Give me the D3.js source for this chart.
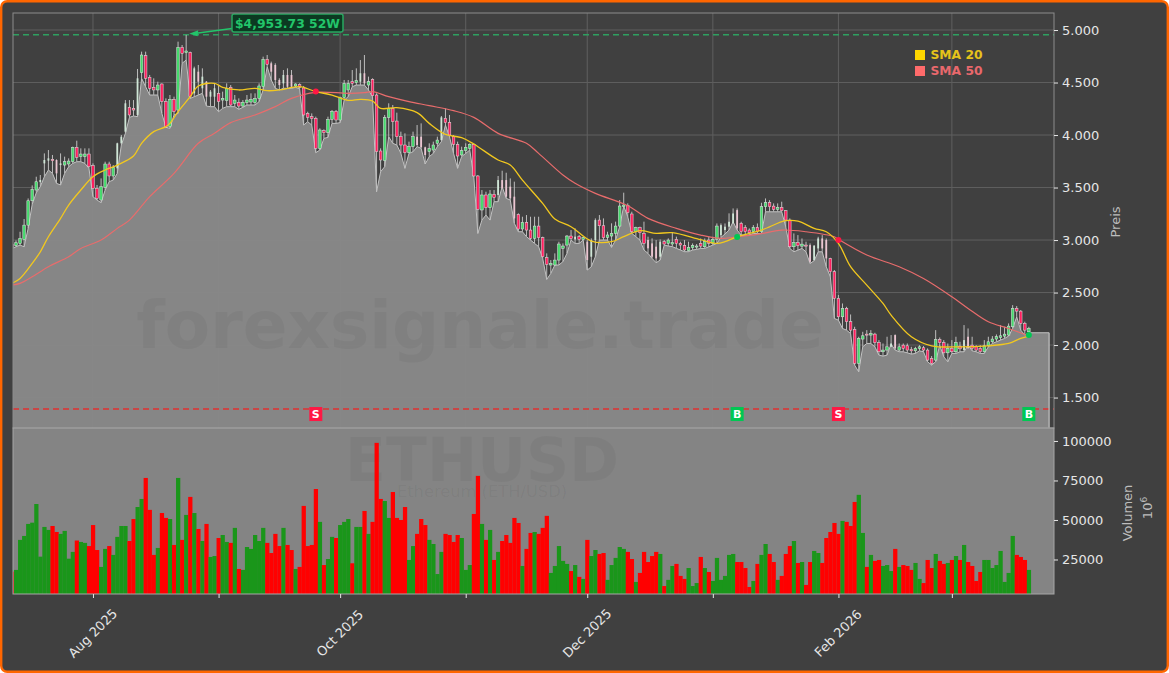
<!DOCTYPE html>
<html>
<head>
<meta charset="utf-8">
<title>ETHUSD</title>
<script src="https://cdnjs.cloudflare.com/ajax/libs/d3/7.9.0/d3.min.js"></script>
<style>
    html, body { margin: 0; padding: 0; background: #ffffff; }
    svg { display: block; font-family: "DejaVu Sans", sans-serif; }
</style>
</head>
<body>
<div id="chart"></div>
<script>
const firstDay = "2025-07-12";

// one letter per day, R = down, G = up (10 per row)
const directions = (
    "RGGGGGGGGG" + "RRGGGGRGGR" + "RRGGRGGGGR" + "RGGRRRGRRG" + "RGRGRGRGRG" +
    "GRGGRGRGGG" + "GGGRRRRGRR" + "GRRRRRGRGG" + "RGGGRGGRGR" + "RRGGRRRRGG" +
    "RRRGGGGRRR" + "RGGGRRGRGR" + "GRRRRRGRRG" + "RRRGGGGGRG" + "RGRGGRRGGG" +
    "GGRRGRRRRR" + "GRGGRRRGGG" + "RGRGGGGGGR" + "RRRGRGGRRG" + "RRRGRGRRGG" +
    "RRRRRGRRRG" + "GRGRRGGGRG" + "RRRGGRRRGR" + "RGRGRGRRRR" + "GGGGGGGGRR" +
    "RG"
).split("");

const bodyTops = [
    2961, 2974, 3015, 3142, 3374, 3482, 3555, 3572, 3762, 3778,
    3768, 3762, 3730, 3746, 3752, 3883, 3883, 3819, 3819, 3819,
    3708, 3492, 3508, 3724, 3724, 3689, 3921, 3984, 4302, 4264,
    4254, 4540, 4762, 4756, 4549, 4454, 4476, 4486, 4318, 4340,
    4340, 4835, 4835, 4800, 4787, 4635, 4603, 4556, 4508, 4413,
    4445, 4397, 4349, 4445, 4454, 4333, 4311, 4311, 4333, 4340,
    4349, 4467, 4721, 4721, 4683, 4667, 4524, 4572, 4572, 4572,
    4486, 4480, 4448, 4206, 4175, 4159, 4048, 4041, 4149, 4226,
    4226, 4356, 4492, 4492, 4508, 4518, 4588, 4588, 4508, 4530,
    4381, 3848, 4168, 4254, 4254, 4133, 3984, 3905, 3889, 3984,
    3984, 3984, 3883, 3873, 3905, 3952, 4168, 4159, 4121, 3984,
    3911, 3851, 3883, 3911, 3911, 3610, 3429, 3429, 3438, 3435,
    3571, 3571, 3571, 3508, 3413, 3244, 3168, 3168, 3095, 3133,
    3133, 3022, 2832, 2778, 2809, 2962, 2943, 3038, 3038, 3032,
    3032, 3025, 2984, 3000, 3190, 3190, 3136, 3048, 3063, 3133,
    3324, 3333, 3327, 3248, 3117, 3117, 3063, 3000, 2968, 2937,
    2984, 2984, 3000, 2975, 3006, 2968, 2949, 2930, 2949, 2943,
    2968, 2984, 3000, 3006, 3133, 3142, 3127, 3174, 3253, 3285,
    3158, 3120, 3095, 3120, 3120, 3317, 3358, 3358, 3323, 3311,
    3311, 3279, 3190, 2977, 2977, 2961, 2952, 2952, 2946, 3015,
    3015, 3000, 2825, 2698, 2444, 2349, 2349, 2222, 2149, 2063,
    2088, 2104, 2110, 2104, 2022, 1952, 1983, 2015, 2095, 1983,
    1999, 1993, 1958, 1968, 1983, 1974, 1952, 1872, 2053, 2053,
    2022, 1968, 1968, 2025, 1990, 2047, 2079, 1999, 1983, 1968,
    1993, 2031, 2057, 2079, 2088, 2104, 2180, 2349, 2349, 2323,
    2206, 2158
];

const bodyBottoms = [
    2936, 2946, 2968, 3006, 3142, 3374, 3476, 3552, 3730, 3756,
    3756, 3635, 3714, 3714, 3724, 3746, 3787, 3794, 3794, 3698,
    3492, 3397, 3381, 3502, 3610, 3610, 3683, 3921, 4032, 4191,
    4238, 4191, 4594, 4540, 4445, 4429, 4429, 4318, 4073, 4080,
    4222, 4238, 4778, 4784, 4365, 4397, 4508, 4445, 4365, 4365,
    4365, 4318, 4333, 4327, 4286, 4302, 4276, 4276, 4308, 4314,
    4308, 4349, 4460, 4673, 4603, 4524, 4476, 4492, 4460, 4460,
    4467, 4454, 4191, 4168, 4156, 3873, 3873, 4022, 4022, 4149,
    4143, 4143, 4356, 4429, 4492, 4499, 4508, 4492, 4476, 4375,
    3841, 3762, 3756, 4165, 4127, 3984, 3905, 3832, 3832, 3889,
    3905, 3883, 3810, 3841, 3857, 3921, 3952, 4118, 4000, 3911,
    3800, 3810, 3851, 3873, 3610, 3292, 3286, 3308, 3308, 3406,
    3429, 3492, 3413, 3397, 3206, 3105, 3105, 3095, 3016, 3016,
    3022, 2841, 2768, 2762, 2762, 2809, 2921, 2952, 3013, 3006,
    3006, 3006, 2809, 2841, 3000, 3136, 3022, 3025, 3038, 3063,
    3133, 3317, 3260, 3079, 3079, 3070, 2968, 2921, 2841, 2825,
    2841, 2962, 2968, 2962, 2968, 2952, 2905, 2898, 2927, 2933,
    2942, 2936, 2968, 2968, 3006, 3047, 3095, 3127, 3158, 3111,
    3079, 3079, 3069, 3079, 3079, 3079, 3317, 3317, 3292, 3292,
    3279, 3190, 2936, 2936, 2946, 2942, 2942, 2793, 2809, 2920,
    2920, 2825, 2698, 2444, 2269, 2269, 2222, 2142, 1825, 1825,
    2057, 2095, 2095, 2022, 1936, 1936, 1952, 1983, 1968, 1952,
    1968, 1952, 1945, 1945, 1968, 1952, 1857, 1825, 1857, 2022,
    1926, 1926, 1936, 1936, 1964, 1952, 1968, 1968, 1952, 1936,
    1936, 1993, 2031, 2057, 2072, 2085, 2095, 2174, 2323, 2206,
    2142, 2126
];

const highs = [
    2984, 2996, 3079, 3200, 3396, 3520, 3603, 3619, 3825, 3857,
    3810, 3768, 3825, 3794, 3778, 3889, 3946, 3873, 3873, 3873,
    3730, 3524, 3587, 3746, 3746, 3714, 3927, 4000, 4333, 4333,
    4333, 4629, 4794, 4794, 4572, 4540, 4508, 4492, 4349, 4381,
    4365, 4889, 4857, 4953.73, 4794, 4651, 4667, 4635, 4514, 4429,
    4492, 4476, 4413, 4492, 4476, 4381, 4349, 4333, 4381, 4397,
    4397, 4492, 4746, 4762, 4699, 4683, 4540, 4619, 4635, 4619,
    4492, 4492, 4467, 4222, 4206, 4175, 4064, 4054, 4175, 4238,
    4238, 4365, 4524, 4524, 4619, 4635, 4714, 4762, 4556, 4540,
    4397, 3873, 4191, 4302, 4286, 4213, 4032, 4016, 3937, 4032,
    4095, 4111, 3889, 3921, 3937, 3984, 4181, 4254, 4191, 4000,
    3937, 3889, 3921, 3921, 3921, 3619, 3476, 3460, 3476, 3476,
    3610, 3660, 3641, 3587, 3556, 3254, 3222, 3238, 3222, 3222,
    3222, 3032, 2873, 2809, 2873, 2984, 2968, 3048, 3095, 3111,
    3048, 3032, 3000, 3016, 3206, 3238, 3206, 3079, 3159, 3175,
    3381, 3451, 3349, 3270, 3127, 3127, 3175, 3032, 3016, 3000,
    3006, 3000, 3016, 3070, 3032, 2984, 3000, 2984, 2968, 2962,
    3015, 3015, 3031, 3031, 3158, 3158, 3158, 3254, 3301, 3301,
    3174, 3142, 3111, 3142, 3158, 3355, 3396, 3380, 3349, 3349,
    3365, 3285, 3206, 3063, 3047, 3015, 2984, 2968, 2952, 3031,
    3047, 3015, 2831, 2714, 2476, 2396, 2364, 2291, 2174, 2079,
    2126, 2142, 2142, 2117, 2047, 2015, 2079, 2095, 2101, 2015,
    2015, 2015, 1983, 1983, 1999, 1990, 1968, 1895, 2142, 2072,
    2047, 2015, 2047, 2079, 2031, 2190, 2158, 2079, 1999, 1999,
    2047, 2079, 2085, 2101, 2190, 2174, 2206, 2380, 2371, 2333,
    2222, 2174
];

const lows = [
    2920, 2936, 2952, 2936, 3110, 3340, 3450, 3508, 3603, 3667,
    3635, 3540, 3524, 3635, 3698, 3730, 3746, 3746, 3730, 3683,
    3413, 3381, 3356, 3476, 3556, 3571, 3635, 3905, 4016, 4168,
    4181, 4175, 4540, 4460, 4381, 4381, 4381, 4206, 4073, 4064,
    4191, 4206, 4683, 4714, 4349, 4365, 4381, 4397, 4276, 4270,
    4270, 4222, 4254, 4270, 4270, 4270, 4245, 4264, 4286, 4286,
    4286, 4318, 4429, 4651, 4524, 4445, 4429, 4445, 4445, 4445,
    4454, 4441, 4095, 4127, 4095, 3832, 3857, 3968, 3978, 4111,
    4111, 4118, 4333, 4365, 4460, 4476, 4476, 4476, 4429, 4365,
    3460, 3651, 3698, 3984, 3921, 3905, 3825, 3683, 3825, 3841,
    3889, 3873, 3724, 3794, 3825, 3889, 3937, 4095, 3984, 3825,
    3683, 3794, 3825, 3857, 3603, 3063, 3190, 3238, 3190, 3365,
    3365, 3508, 3397, 3381, 3159, 3079, 3079, 3032, 3000, 2968,
    2937, 2825, 2625, 2682, 2762, 2762, 2794, 2873, 3000, 2968,
    2968, 3000, 2714, 2746, 2841, 3000, 3000, 3000, 2930, 3000,
    3127, 3324, 3222, 3063, 3032, 3000, 2905, 2873, 2825, 2784,
    2809, 2952, 2943, 2937, 2921, 2905, 2889, 2889, 2905, 2911,
    2920, 2920, 2936, 2952, 2968, 3025, 3057, 3095, 3174, 3095,
    3047, 3047, 3047, 3063, 3063, 3063, 3269, 3269, 3269, 3269,
    3269, 3126, 2920, 2888, 2904, 2920, 2888, 2777, 2803, 2888,
    2888, 2746, 2650, 2253, 2237, 2158, 2142, 2110, 1809, 1745,
    1983, 2015, 2015, 1983, 1904, 1895, 1904, 2009, 1952, 1936,
    1936, 1926, 1914, 1920, 1945, 1936, 1841, 1809, 1841, 1999,
    1888, 1841, 1920, 1920, 1936, 1936, 1999, 1945, 1936, 1920,
    1920, 1983, 2015, 2031, 2047, 2063, 2085, 2158, 2269, 2142,
    2095, 2117
];

const volumes = [
    17300, 18400, 37400, 39900, 47500, 48300, 60100, 26800, 45600, 43700,
    46200, 42400, 41200, 43100, 25500, 29800, 37000, 36100, 35500, 33500,
    46800, 31000, 20300, 31700, 33500, 27900, 39300, 46200, 46200, 36700,
    50600, 58200, 63300, 76600, 56400, 27900, 32300, 54400, 51300, 50600,
    34200, 76600, 37400, 53200, 64600, 54400, 44300, 36700, 47500, 26600,
    27200, 38600, 40500, 36100, 35500, 45000, 19000, 18400, 32900, 31700,
    40500, 36700, 45000, 35500, 29100, 41200, 33500, 45000, 34200, 31000,
    19000, 20300, 58900, 33500, 34200, 69600, 48800, 21500, 25300, 39300,
    38600, 46800, 48800, 50600, 22600, 45600, 45600, 55700, 41200, 48800,
    98800, 63300, 62000, 51300, 67700, 51300, 50000, 58200, 24700, 33500,
    41200, 50600, 46800, 37400, 34800, 15800, 29800, 41200, 40500, 36100,
    40500, 38600, 18400, 21500, 53800, 77900, 47500, 37400, 43700, 24700,
    29800, 36700, 40500, 35500, 51300, 48100, 20900, 31700, 41800, 42400,
    41200, 45000, 52600, 16500, 20900, 33500, 24100, 22200, 17700, 21500,
    14000, 12700, 37400, 27200, 31000, 28500, 29100, 12100, 21500, 26000,
    32900, 31700, 29800, 25300, 10800, 16500, 29800, 23400, 27200, 29800,
    28500, 8200, 12100, 20900, 22200, 14600, 12700, 19600, 8200, 10100,
    26600, 19600, 17100, 11400, 26000, 12100, 14600, 27900, 28500, 23400,
    23400, 19600, 7600, 11400, 22200, 27900, 34800, 28500, 23400, 12100,
    14600, 28500, 33500, 36700, 22800, 23400, 8900, 23400, 30400, 29100,
    22800, 38600, 42400, 48100, 41200, 49400, 48800, 46200, 61400, 65900,
    41800, 20300, 27900, 24100, 24700, 20900, 21500, 17700, 31700, 20300,
    21500, 20900, 18400, 22800, 12700, 10100, 24700, 19600, 28500, 24100,
    22200, 22800, 24700, 27200, 24700, 34200, 23400, 20900, 11400, 17100,
    24700, 24700, 19600, 21500, 30400, 10800, 16500, 39900, 27900, 26600,
    24700, 18400
];

// these candles look washed out in the picture, narrow and pale
const paleDays = [7, 8, 9, 11, 12, 26, 27, 28, 31, 45, 46, 47, 48, 49, 50, 64, 65, 66, 67, 68, 69, 86, 87,
    100, 101, 102, 106, 120, 121, 122, 123, 124, 139, 142, 143, 144, 157, 158, 159, 160,
    175, 176, 177, 178, 179, 197, 198, 199, 200, 201, 217, 218, 235, 236];

// moving averages, read at the day numbers listed next to them
const sma20Days = [0, 2, 5, 7, 9, 12, 14, 17, 20, 23, 26, 30, 32, 35, 38, 39, 41, 44, 46, 50, 52, 56, 60, 63, 66, 71, 75, 79, 83,
    86, 89, 91, 95, 100, 103, 107, 111, 114, 120, 123, 126, 131, 134, 138, 143, 148, 151, 155, 159, 163, 170,
    174, 176, 179, 185, 191, 194, 198, 201, 204, 207, 211, 215, 217, 222, 227, 234, 241, 246, 249, 251];
const sma20 = [2587, 2634, 2777, 2888, 3031, 3206, 3333, 3476, 3603, 3667, 3714, 3800, 3921, 4032, 4080, 4111, 4222, 4365, 4467, 4492, 4454, 4429, 4445, 4422, 4429, 4460, 4413, 4381, 4330,
    4340, 4324, 4254, 4260, 4213, 4111, 4006, 3975, 3914, 3762, 3714, 3571, 3349, 3200, 3127, 2990, 2984, 3032, 3089, 3063, 3070, 3003,
    2968, 2984, 3031, 3095, 3184, 3180, 3111, 3079, 2968, 2746, 2571, 2396, 2285, 2079, 1993, 1983, 1993, 2015, 2063, 2085];

const sma50Days = [0, 2, 5, 9, 14, 17, 22, 26, 29, 34, 40, 46, 50, 54, 60, 65, 69, 75, 83,
    87, 89, 93, 98, 103, 109, 114, 120, 127, 130, 136, 139, 144, 152, 157, 164, 170,
    175, 179, 184, 190, 196, 203, 204, 211, 219, 225, 232, 236, 241, 246, 251];
const sma50 = [2571, 2587, 2650, 2746, 2841, 2920, 3000, 3111, 3190, 3413, 3635, 3921, 4016, 4118, 4191, 4270, 4349, 4407, 4397,
    4403, 4413, 4365, 4318, 4280, 4232, 4168, 4016, 3921, 3825, 3619, 3540, 3444, 3327, 3206, 3111, 3047,
    3015, 3031, 3053, 3095, 3079, 3031, 3006, 2857, 2746, 2634, 2460, 2349, 2222, 2158, 2085];

const signalDays = [75, 179, 204, 251];
const signalTypes = ["S", "B", "S", "B"];
const signalPrices = [4415, 3029, 3000, 2095];
const signalRowPrice = 1343;

const high52w = 4953.73;
const low52w = 1390;
const high52wDay = 43;
const areaEnd = "2026-03-25";

const priceTicks = [1500, 2000, 2500, 3000, 3500, 4000, 4500, 5000];
const volumeTicks = [25000, 50000, 75000, 100000];
const monthTicks = ["2025-08-01", "2025-09-01", "2025-10-01", "2025-11-01", "2025-12-01", "2026-01-01", "2026-02-01", "2026-03-01"];
const monthLabels = ["Aug 2025", "", "Oct 2025", "", "Dec 2025", "", "Feb 2026", ""];

const legendNames = ["SMA 20", "SMA 50"];

const width = 1169, height = 673;
const left = 13, right = 1054, priceTop = 13, priceBottom = 428, volumeBottom = 594;
const colors = {
    page: "#404040", border: "#ff6600", panel: "#848484", spine: "#8c8c8c", grid: "#5f5f5f",
    text: "#e6e6e6", label: "#bdbdbd", edge: "#c2c2c2",
    sma20: "#f2c81e", sma50: "#e86c6c", volUp: "#1a961a", volDown: "#ff0000",
    candleUp: "#46d96c", candleDown: "#ff1f5f", paleUp: "#cfe6d6", paleDown: "#ecc6d2",
    signalUp: "#00c853", signalDown: "#ff1744",
    highLine: "#2f9f60", lowLine: "#e03232", highText: "#22c56a", highBox: "#0c3a22"
};

const parseDay = d3.utcParse("%Y-%m-%d");
const days = directions.map((_, i) => d3.utcDay.offset(parseDay(firstDay), i));

const x = d3.scaleUtc()
    .domain([new Date(Date.UTC(2025, 6, 12, 6, 14)), new Date(Date.UTC(2026, 2, 26, 5, 0))])
    .range([left, right]);
const y = d3.scaleLinear().domain([1210, 5162]).range([priceBottom, priceTop]);
const yVolume = d3.scaleLinear().domain([3165, 108200]).range([volumeBottom, priceBottom]);

const germanFormat = d3.formatLocale({ decimal: ",", thousands: ".", grouping: [3], currency: ["", " €"] }).format(",d");

const svg = d3.select("#chart").append("svg").attr("width", width).attr("height", height);

svg.append("rect")
    .attr("x", 1.2).attr("y", 1.2)
    .attr("width", width - 2.4).attr("height", height - 2.4)
    .attr("rx", 6)
    .attr("fill", colors.page)
    .attr("stroke", colors.border)
    .attr("stroke-width", 2.4);

const defs = svg.append("defs");
defs.append("clipPath").attr("id", "clip-price").append("rect")
    .attr("x", left).attr("y", priceTop).attr("width", right - left).attr("height", priceBottom - priceTop);
defs.append("clipPath").attr("id", "clip-volume").append("rect")
    .attr("x", left).attr("y", priceBottom).attr("width", right - left).attr("height", volumeBottom - priceBottom);

// grid below the area
const monthDates = monthTicks.map(parseDay);
const grid = svg.append("g").attr("stroke", colors.grid).attr("stroke-width", 1);
grid.selectAll(".grid-x").data(monthDates).join("line")
    .attr("x1", d => x(d)).attr("x2", d => x(d))
    .attr("y1", priceTop).attr("y2", priceBottom);
grid.selectAll(".grid-y").data(priceTicks).join("line")
    .attr("x1", left).attr("x2", right)
    .attr("y1", d => y(d)).attr("y2", d => y(d));

const price = svg.append("g").attr("clip-path", "url(#clip-price)");

// lows as area, it stays flat after the last day
const areaDays = days.concat([parseDay(areaEnd)]);
const areaLows = lows.concat([lows[lows.length - 1]]);
price.append("path")
    .datum(areaDays)
    .attr("d", d3.area()
        .x(d => x(d))
        .y0(priceBottom)
        .y1((d, i) => y(areaLows[i])))
    .attr("fill", "#8a8a8a")
    .attr("fill-opacity", 0.94);
price.append("path")
    .datum(areaDays)
    .attr("d", d3.line().x(d => x(d)).y((d, i) => y(areaLows[i])))
    .attr("fill", "none")
    .attr("stroke", colors.edge)
    .attr("stroke-width", 1);
svg.append("line")
    .attr("x1", x(parseDay(areaEnd))).attr("x2", x(parseDay(areaEnd)))
    .attr("y1", y(areaLows[areaLows.length - 1])).attr("y2", priceBottom)
    .attr("stroke", colors.edge).attr("stroke-width", 1.2);

// volume panel
svg.append("rect")
    .attr("x", left).attr("y", priceBottom)
    .attr("width", right - left).attr("height", volumeBottom - priceBottom)
    .attr("fill", colors.panel);

// watermarks
const marks = svg.append("g").attr("text-anchor", "middle").attr("fill", "#000000");
marks.append("text").attr("x", 480).attr("y", 348)
    .attr("font-size", 66).attr("font-weight", "bold").attr("fill-opacity", 0.045)
    .text("forexsignale.trade");
marks.append("text").attr("x", 482).attr("y", 481)
    .attr("font-size", 60).attr("font-weight", "bold").attr("fill-opacity", 0.04)
    .text("ETHUSD");
marks.append("text").attr("x", 482).attr("y", 497)
    .attr("font-size", 16.3).attr("fill-opacity", 0.05)
    .text("Ethereum (ETH/USD)");

// volume bars
const barWidth = x(days[1]) - x(days[0]);
svg.append("g").attr("clip-path", "url(#clip-volume)")
    .selectAll("rect").data(days).join("rect")
    .attr("x", d => x(d) - barWidth / 2)
    .attr("width", barWidth + 0.2)
    .attr("y", (d, i) => yVolume(volumes[i]))
    .attr("height", (d, i) => volumeBottom - yVolume(volumes[i]))
    .attr("fill", (d, i) => directions[i] === "G" ? colors.volUp : colors.volDown);

// reference lines
price.append("line")
    .attr("x1", left).attr("x2", right).attr("y1", y(high52w)).attr("y2", y(high52w))
    .attr("stroke", colors.highLine).attr("stroke-width", 1.5).attr("stroke-dasharray", "6,4");
price.append("line")
    .attr("x1", left).attr("x2", right).attr("y1", y(low52w)).attr("y2", y(low52w))
    .attr("stroke", colors.lowLine).attr("stroke-width", 1.5).attr("stroke-dasharray", "6,4");

// candles
const isPale = i => paleDays.includes(i);
const candleFill = (d, i) => {
    if (isPale(i)) return directions[i] === "G" ? colors.paleUp : colors.paleDown;
    return directions[i] === "G" ? colors.candleUp : colors.candleDown;
};
const candles = price.append("g").selectAll("g").data(days).join("g");
candles.append("line")
    .attr("x1", d => x(d)).attr("x2", d => x(d))
    .attr("y1", (d, i) => y(highs[i])).attr("y2", (d, i) => y(lows[i]))
    .attr("stroke", "#bdbdbd").attr("stroke-width", 1);
candles.append("rect")
    .attr("x", (d, i) => x(d) - (isPale(i) ? 0.9 : 1.3))
    .attr("width", (d, i) => isPale(i) ? 1.8 : 2.6)
    .attr("y", (d, i) => y(bodyTops[i]))
    .attr("height", (d, i) => Math.max(1, y(bodyBottoms[i]) - y(bodyTops[i])))
    .attr("fill", candleFill)
    .attr("stroke", "#e4e4e4")
    .attr("stroke-width", (d, i) => isPale(i) ? 0 : 0.5);

// moving averages
const smaLine = d3.line().x(d => x(days[d[0]])).y(d => y(d[1])).curve(d3.curveCatmullRom);
price.append("path")
    .datum(d3.zip(sma50Days, sma50))
    .attr("d", smaLine)
    .attr("fill", "none").attr("stroke", colors.sma50).attr("stroke-width", 1.2);
price.append("path")
    .datum(d3.zip(sma20Days, sma20))
    .attr("d", smaLine)
    .attr("fill", "none").attr("stroke", colors.sma20).attr("stroke-width", 1.3);

// signals: dot at the crossing, letter box in the row above the volume
const signalColor = t => t === "B" ? colors.signalUp : colors.signalDown;
price.selectAll(".signal-dot").data(signalDays).join("circle")
    .attr("cx", d => x(days[d]))
    .attr("cy", (d, i) => y(signalPrices[i]))
    .attr("r", 3)
    .attr("fill", (d, i) => signalColor(signalTypes[i]));
const signalBoxes = svg.selectAll(".signal-box").data(signalDays).join("g");
signalBoxes.append("rect")
    .attr("x", d => x(days[d]) - 6.5)
    .attr("y", y(signalRowPrice) - 7)
    .attr("width", 13).attr("height", 14)
    .attr("fill", (d, i) => signalColor(signalTypes[i]));
signalBoxes.append("text")
    .attr("x", d => x(days[d]))
    .attr("y", y(signalRowPrice) + 4)
    .attr("text-anchor", "middle")
    .attr("font-size", 11).attr("font-weight", "bold").attr("fill", "#ffffff")
    .text((d, i) => signalTypes[i]);

// 52 week high label with arrow
const tipX = x(days[high52wDay]) + 3, tipY = y(high52w) - 1;
const boxX = 232, boxY = 14, boxW = 111, boxH = 18;
svg.append("line")
    .attr("x1", boxX).attr("y1", boxY + 14.5)
    .attr("x2", tipX + 7).attr("y2", tipY - 0.6)
    .attr("stroke", colors.highText).attr("stroke-width", 1.6);
svg.append("path")
    .attr("d", d3.line()([[tipX, tipY], [tipX + 9, tipY - 3.5], [tipX + 8.5, tipY + 2.5]]))
    .attr("fill", colors.highText);
svg.append("rect")
    .attr("x", boxX).attr("y", boxY).attr("width", boxW).attr("height", boxH).attr("rx", 2)
    .attr("fill", colors.highBox).attr("stroke", "#27a860").attr("stroke-width", 1.5);
svg.append("text")
    .attr("x", boxX + boxW / 2).attr("y", boxY + 13.5)
    .attr("text-anchor", "middle")
    .attr("font-size", 12.4).attr("font-weight", "bold").attr("fill", colors.highText)
    .text("$" + d3.format(",.2f")(high52w) + " 52W");

// legend
const legend = svg.append("g").selectAll("g").data(legendNames).join("g")
    .attr("transform", (d, i) => `translate(915,${50 + i * 16})`);
legend.append("rect")
    .attr("width", 10).attr("height", 10)
    .attr("fill", (d, i) => i === 0 ? "#ffd700" : "#ff6b6b");
legend.append("text")
    .attr("x", 15.5).attr("y", 8.5)
    .attr("font-size", 12.3).attr("font-weight", "bold")
    .attr("fill", (d, i) => i === 0 ? "#e6c31a" : "#e8686c")
    .text(d => d);

// panel frames
svg.append("rect")
    .attr("x", left).attr("y", priceTop).attr("width", right - left).attr("height", priceBottom - priceTop)
    .attr("fill", "none").attr("stroke", colors.spine);
svg.append("rect")
    .attr("x", left).attr("y", priceBottom).attr("width", right - left).attr("height", volumeBottom - priceBottom)
    .attr("fill", "none").attr("stroke", "#a6a6a6");

// axes
const styleAxis = g => {
    g.select(".domain").remove();
    g.selectAll("line").attr("stroke", colors.text);
    g.selectAll("text").attr("fill", colors.text).attr("font-size", 13).attr("font-family", '"DejaVu Sans", sans-serif');
};

svg.append("g")
    .attr("transform", `translate(${right},0)`)
    .call(d3.axisRight(y).tickValues(priceTicks).tickSize(4).tickPadding(4).tickFormat(germanFormat))
    .call(styleAxis);

svg.append("g")
    .attr("transform", `translate(${right},0)`)
    .call(d3.axisRight(yVolume).tickValues(volumeTicks).tickSize(4).tickPadding(4).tickFormat(d3.format("d")))
    .call(styleAxis);

svg.append("g")
    .attr("transform", `translate(0,${volumeBottom})`)
    .call(d3.axisBottom(x).tickValues(monthDates).tickSize(4).tickFormat((d, i) => monthLabels[i]))
    .call(styleAxis)
    .selectAll("text")
    .attr("text-anchor", "middle")
    .attr("dy", 0).attr("y", 0)
    .attr("transform", "translate(0,40) rotate(-45)")
    .attr("dominant-baseline", "middle");

// axis titles
const axisTitle = (tx, ty, label) => svg.append("text")
    .attr("transform", `translate(${tx},${ty}) rotate(-90)`)
    .attr("text-anchor", "middle")
    .attr("font-size", 13)
    .attr("fill", colors.label)
    .text(label);
axisTitle(1120, 222, "Preis");
axisTitle(1132, 513, "Volumen");
const offset = axisTitle(1152, 508, "10");
offset.append("tspan").attr("font-size", 9).attr("dy", -5).text("6");
</script>
</body>
</html>
